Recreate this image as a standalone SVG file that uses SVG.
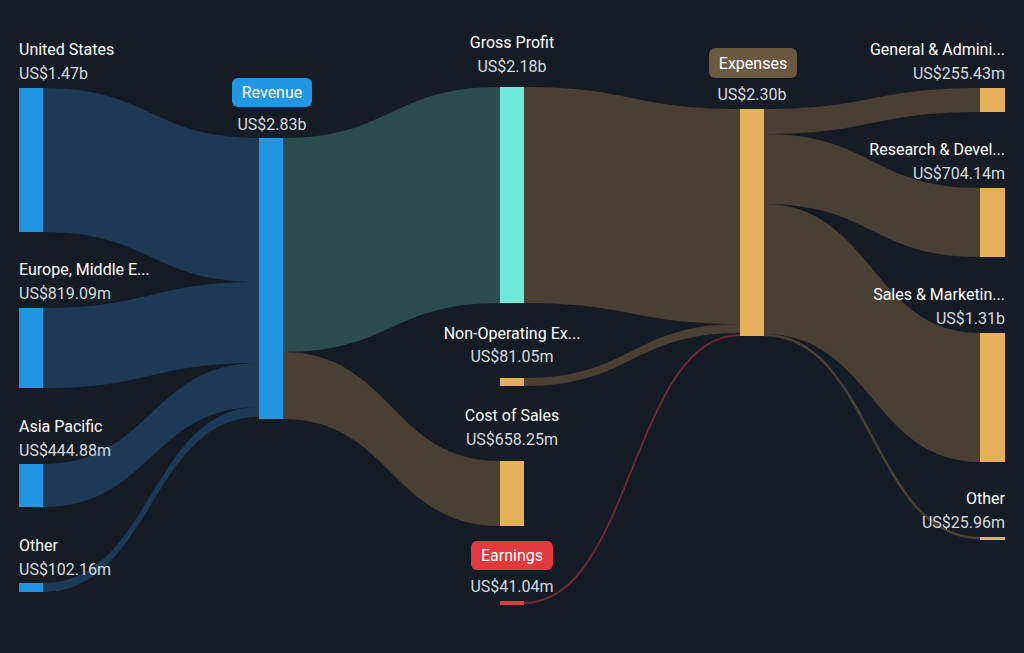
<svg xmlns="http://www.w3.org/2000/svg" width="1024" height="653" viewBox="0 0 1024 653">
<style>
text{font-family:Roboto,"Liberation Sans",sans-serif;font-size:16px;fill:#ffffff}
.v{fill:#d5d9df}
.m{text-anchor:middle}
.e{text-anchor:end}
.blue{fill:#1e3b58;opacity:0.95}
.teal{fill:#2c4d50}
.brown{fill:#4a3f33}
</style>
<rect width="1024" height="653" fill="#161c26"/>
<g id="connectors">
<path class="blue" d="M43,88 C151,88 151,138 259,138 L259,282 C151,282 151,232 43,232 Z"/>
<path class="blue" d="M43,308 C151,308 151,282 259,282 L259,363 C151,363 151,388 43,388 Z"/>
<path class="blue" d="M43,464 C151,464 151,363 259,363 L259,407 C151,407 151,507 43,507 Z"/>
<path class="blue" d="M43,583 C151,583 151,407 259,407 L259,417 C151,417 151,592 43,592 Z"/>
<path class="teal" d="M283,138 C391,138 391,87 500,87 L500,303 C391,303 391,352 283,352 Z"/>
<path class="brown" d="M283,352 C391,352 391,461 500,461 L500,526 C391,526 391,419 283,419 Z"/>
<path class="brown" d="M524,87 C632,87 632,109 740,109 L740,324 C632,324 632,303 524,303 Z"/>
<path class="brown" d="M524,378 C632,378 632,324 740,324 L740,333 C632,333 632,386 524,386 Z"/>
<path d="M524,603 C632,603 632,335 740,335" fill="none" stroke="#6b2a2e" stroke-width="2"/>
<path class="brown" d="M764,109 C872,109 872,88 980,88 L980,112 C872,112 872,134 764,134 Z"/>
<path class="brown" d="M764,134 C872,134 872,188 980,188 L980,257 C872,257 872,204 764,204 Z"/>
<path class="brown" d="M764,204 C872,204 872,333 980,333 L980,462 C872,462 872,334 764,334 Z"/>
<path d="M764,335 C872,335 872,538 980,538" fill="none" stroke="#4a3f33" stroke-width="2.5"/>
</g>
<g id="us"><rect x="19" y="88" width="24" height="144" fill="#2196e3"/><text x="19" y="55">United States</text><text class="v" x="19" y="79">US$1.47b</text></g>
<g id="emea"><rect x="19" y="308" width="24" height="80" fill="#2196e3"/><text x="19" y="275">Europe, Middle E...</text><text class="v" x="19" y="299">US$819.09m</text></g>
<g id="apac"><rect x="19" y="464" width="24" height="43" fill="#2196e3"/><text x="19" y="432">Asia Pacific</text><text class="v" x="19" y="456">US$444.88m</text></g>
<g id="other-in"><rect x="19" y="583" width="24" height="9" fill="#2196e3"/><text x="19" y="551">Other</text><text class="v" x="19" y="575">US$102.16m</text></g>
<g id="revenue"><rect x="259" y="138" width="24" height="281" fill="#2196e3"/><rect x="232" y="78" width="80" height="29" rx="6" fill="#2196e3"/><text class="m" x="272" y="98">Revenue</text><text class="v m" x="272" y="130">US$2.83b</text></g>
<g id="gross"><rect x="500" y="87" width="24" height="216" fill="#6ee8d8"/><text class="m" x="512" y="48">Gross Profit</text><text class="v m" x="512" y="72">US$2.18b</text></g>
<g id="nonop"><rect x="500" y="378" width="24" height="8" fill="#e5b05c"/><text class="m" x="512" y="339">Non-Operating Ex...</text><text class="v m" x="512" y="362">US$81.05m</text></g>
<g id="cos"><rect x="500" y="461" width="24" height="65" fill="#e5b05c"/><text class="m" x="512" y="421">Cost of Sales</text><text class="v m" x="512" y="445">US$658.25m</text></g>
<g id="earnings"><rect x="500" y="601" width="24" height="4" fill="#e0393e"/><rect x="471" y="541" width="82" height="29" rx="6" fill="#e0393e"/><text class="m" x="512" y="561">Earnings</text><text class="v m" x="512" y="592">US$41.04m</text></g>
<g id="expenses"><rect x="740" y="109" width="24" height="227" fill="#e5b05c"/><rect x="709" y="48" width="88" height="30" rx="6" fill="#6b5843"/><text class="m" x="753" y="69">Expenses</text><text class="v m" x="752" y="100">US$2.30b</text></g>
<g id="ga"><rect x="980" y="88" width="25" height="24" fill="#e5b05c"/><text class="e" x="1005" y="55">General &amp; Admini...</text><text class="v e" x="1005" y="79">US$255.43m</text></g>
<g id="rd"><rect x="980" y="188" width="25" height="69" fill="#e5b05c"/><text class="e" x="1005" y="155">Research &amp; Devel...</text><text class="v e" x="1005" y="179">US$704.14m</text></g>
<g id="sm"><rect x="980" y="333" width="25" height="129" fill="#e5b05c"/><text class="e" x="1005" y="300">Sales &amp; Marketin...</text><text class="v e" x="1005" y="324">US$1.31b</text></g>
<g id="other-out"><rect x="980" y="537" width="25" height="3" fill="#e5b05c"/><text class="e" x="1005" y="504">Other</text><text class="v e" x="1005" y="528">US$25.96m</text></g>
</svg>
